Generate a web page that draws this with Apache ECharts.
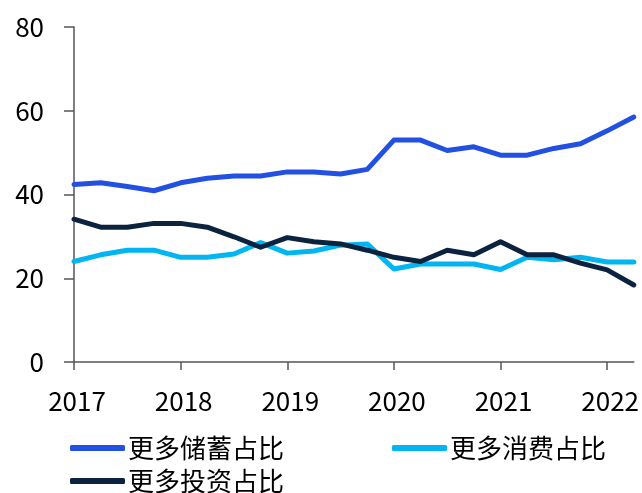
<!DOCTYPE html>
<html lang="zh">
<head>
    <meta charset="UTF-8">
    <title>更多储蓄占比</title>
    <script src="https://cdn.jsdelivr.net/npm/echarts@6/dist/echarts.min.js"></script>
    <style>
        html, body { margin: 0; padding: 0; background: #fff; }
        #main { width: 642px; height: 493px; }
    </style>
</head>
<body>
<div id="main"></div>
<script>
    // 季度 2017Q1 - 2022Q2
    var quarters = [
        '2017Q1','2017Q2','2017Q3','2017Q4',
        '2018Q1','2018Q2','2018Q3','2018Q4',
        '2019Q1','2019Q2','2019Q3','2019Q4',
        '2020Q1','2020Q2','2020Q3','2020Q4',
        '2021Q1','2021Q2','2021Q3','2021Q4',
        '2022Q1','2022Q2'
    ];
    var savingData  = [42.4, 42.8, 41.9, 40.9, 42.8, 43.9, 44.4, 44.4, 45.4, 45.4, 44.9, 46.0,
                       53.0, 53.0, 50.5, 51.4, 49.4, 49.4, 51.0, 52.1, 55.2, 58.5];
    var consumeData = [24.0, 25.6, 26.7, 26.7, 25.0, 25.0, 25.8, 28.5, 26.0, 26.5, 27.9, 28.2,
                       22.2, 23.4, 23.4, 23.4, 22.1, 25.0, 24.4, 25.0, 23.9, 23.9];
    var investData  = [34.1, 32.2, 32.2, 33.1, 33.1, 32.2, 29.9, 27.4, 29.7, 28.7, 28.2, 26.7,
                       25.0, 24.0, 26.7, 25.6, 28.7, 25.6, 25.6, 23.6, 22.0, 18.4];
    var yTicks = { min: 0, max: 80, interval: 20 };

    var font = '"Noto Sans CJK SC", "Noto Sans", sans-serif';
    var colors = ['#2250E2', '#00B5F1', '#0C2340'];

    var myChart = echarts.init(document.getElementById('main'));

    function line(name, data, color) {
        return {
            name: name,
            type: 'line',
            data: data,
            symbol: 'none',
            lineStyle: { width: 5, color: color, cap: 'round', join: 'round' },
            itemStyle: { color: color },
            z: 2
        };
    }

    var legendBase = {
        icon: 'roundRect',
        itemWidth: 55,
        itemHeight: 6,
        itemGap: 108,
        textStyle: { fontFamily: font, fontSize: 26, color: '#000', padding: [0, 0, 0, -2] }
    };

    var option = {
        animation: false,
        grid: { left: 74, right: 6, top: 27, bottom: 131 },
        legend: [
            Object.assign({}, legendBase, { left: 65, top: 430, data: ['更多储蓄占比', '更多消费占比'] }),
            Object.assign({}, legendBase, { left: 65, top: 463, data: ['更多投资占比'] })
        ],
        xAxis: {
            type: 'category',
            data: quarters,
            boundaryGap: false,
            axisLine: { lineStyle: { color: '#555', width: 1.5 } },
            axisTick: { show: true, interval: 3, length: 8, lineStyle: { color: '#555', width: 1.5 } },
            axisLabel: {
                interval: 3,
                margin: 26,
                padding: [0, 0, 0, 6],
                fontFamily: font,
                fontSize: 26,
                color: '#000',
                formatter: function (v) { return v.slice(0, 4); }
            }
        },
        yAxis: {
            type: 'value',
            min: yTicks.min,
            max: yTicks.max,
            interval: yTicks.interval,
            splitLine: { show: false },
            axisLine: { show: true, lineStyle: { color: '#555', width: 1.5 } },
            axisTick: { show: true, length: 10, lineStyle: { color: '#555', width: 1.5 } },
            axisLabel: { margin: 30, fontFamily: font, fontSize: 26, color: '#000' }
        },
        series: [
            line('更多储蓄占比', savingData, colors[0]),
            line('更多消费占比', consumeData, colors[1]),
            line('更多投资占比', investData, colors[2])
        ]
    };

    myChart.setOption(option);
</script>
</body>
</html>
